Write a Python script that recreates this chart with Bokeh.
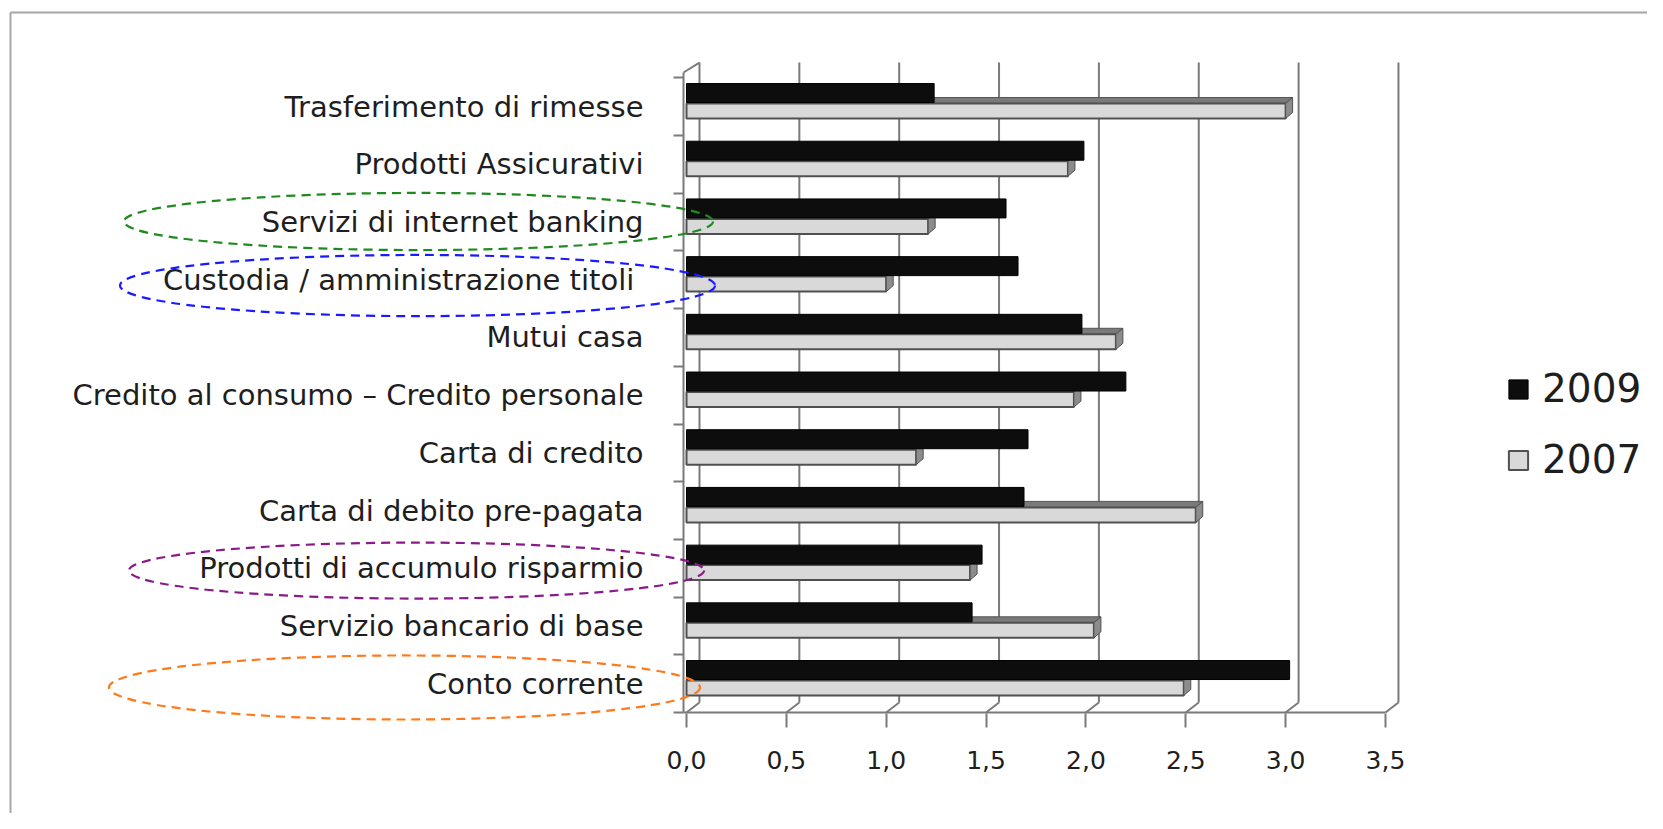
from bokeh.plotting import figure
from bokeh.models import (ColumnDataSource, FixedTicker, Range1d, Legend,
                          LegendItem)
from bokeh.embed import file_html
from bokeh.resources import INLINE

# ---------------- data (display order, top to bottom) ----------------
categories = [
    "Trasferimento di rimesse",
    "Prodotti Assicurativi",
    "Servizi di internet banking",
    "Custodia / amministrazione  titoli",
    "Mutui casa",
    "Credito al consumo \u2013 Credito personale",
    "Carta di credito",
    "Carta di debito pre-pagata",
    "Prodotti di accumulo risparmio",
    "Servizio bancario di base",
    "Conto corrente",
]
values_2009 = [1.24, 1.99, 1.60, 1.66, 1.98, 2.20, 1.71, 1.69, 1.48, 1.43, 3.02]
values_2007 = [3.00, 1.91, 1.21, 1.00, 2.15, 1.94, 1.15, 2.55, 1.42, 2.04, 2.49]
series_names = ["2009", "2007"]
x_ticks = [0.0, 0.5, 1.0, 1.5, 2.0, 2.5, 3.0, 3.5]
x_tick_labels = ["0,0", "0,5", "1,0", "1,5", "2,0", "2,5", "3,0", "3,5"]

highlighted = ["Servizi di internet banking", "Custodia / amministrazione  titoli",
               "Prodotti di accumulo risparmio", "Conto corrente"]
highlight_colors = ["#1f8a1f", "#1a1aff", "#8a1a8a", "#ff7a1a"]

# ---------------- styling constants ----------------
FONT = "DejaVu Sans"
TXT = "#1e1e1e"
GRID = "#7a7a7a"
DX, DY = 0.065, 0.173      # depth offset of the back wall
DXB = 0.035                # depth of bar end caps
W, H = 1647, 813
XR = (-3.435, 4.812)
YR = (-2.250, 11.840)
FLOOR = -0.5
WALL_TOP = 10.765
AX_X = -0.015

n = len(categories)
pos = [n - 1 - k for k in range(n)]

p = figure(width=W, height=H, output_backend="svg", toolbar_location=None,
           title=None, x_range=Range1d(*XR), y_range=Range1d(*YR),
           min_border=0)
p.outline_line_color = None
p.background_fill_color = "white"
p.border_fill_color = "white"
p.xgrid.visible = False
p.ygrid.visible = False

# ---------------- axes (pinned at the chart's corner) ----------------
xa = p.xaxis[0]
xa.fixed_location = FLOOR - 0.017
xa.ticker = FixedTicker(ticks=x_ticks, minor_ticks=[])
xa.major_label_overrides = {t: s for t, s in zip(x_ticks, x_tick_labels)}
xa.axis_line_color = None
xa.major_tick_line_color = GRID
xa.major_tick_line_width = 2
xa.major_tick_out = 14
xa.major_tick_in = 0
xa.major_label_standoff = 23
xa.major_label_text_font = FONT
xa.major_label_text_font_size = "25px"
xa.major_label_text_color = TXT

ya = p.yaxis[0]
ya.fixed_location = AX_X
ya.ticker = FixedTicker(ticks=pos, minor_ticks=[i - 0.5 for i in range(n + 1)])
ya.major_label_overrides = {i: c for i, c in zip(pos, categories)}
ya.axis_line_color = None
ya.major_tick_out = 0
ya.major_tick_in = 0
ya.minor_tick_out = 10
ya.minor_tick_in = 0
ya.minor_tick_line_color = GRID
ya.minor_tick_line_width = 2
ya.major_label_standoff = 30
ya.major_label_text_font = FONT
ya.major_label_text_font_size = "29px"
ya.major_label_text_color = TXT

# ---------------- outer chart-area border (top and left) ----------------
BX, BY = -3.385, 11.632
p.segment(x0=[BX, BX], y0=[YR[0], BY], x1=[BX, XR[1]], y1=[BY, BY],
          line_color="#a6a6a6", line_width=2)

# ---------------- 3D walls ----------------
p.segment(x0=[t + DX for t in x_ticks], y0=[FLOOR + DY] * len(x_ticks),
          x1=[t + DX for t in x_ticks], y1=[WALL_TOP] * len(x_ticks),
          line_color=GRID, line_width=2)
p.segment(x0=x_ticks, y0=[FLOOR] * len(x_ticks),
          x1=[t + DX for t in x_ticks], y1=[FLOOR + DY] * len(x_ticks),
          line_color=GRID, line_width=2)
# floor front edge, left wall front edge and its top bevel
p.segment(x0=[AX_X, AX_X, AX_X], y0=[FLOOR, FLOOR, WALL_TOP - DY],
          x1=[x_ticks[-1], AX_X, DX], y1=[FLOOR, WALL_TOP - DY, WALL_TOP],
          line_color=GRID, line_width=2)

# ---------------- bars ----------------
g_bot, g_top, g_face = -0.205, 0.055, 0.159
k_bot, k_top = 0.072, 0.401

top_face = ColumnDataSource(dict(
    xs=[[0, v, v + DXB, DXB] for v in values_2007],
    ys=[[i + g_top, i + g_top, i + g_face, i + g_face] for i in pos]))
p.patches("xs", "ys", source=top_face, fill_color="#7a7a7a",
          line_color="#555555", line_width=1)

src07 = ColumnDataSource(dict(y=pos, right=values_2007,
                              bottom=[i + g_bot for i in pos],
                              top=[i + g_top for i in pos]))
r07 = p.quad(left=0, right="right", bottom="bottom", top="top", source=src07,
             fill_color="#d9d9d9", line_color="#505050", line_width=2)

cap = ColumnDataSource(dict(
    xs=[[v, v + DXB, v + DXB, v] for v in values_2007],
    ys=[[i + g_bot, i + g_bot + (g_face - g_top), i + g_face, i + g_top] for i in pos]))
p.patches("xs", "ys", source=cap, fill_color="#8c8c8c",
          line_color="#505050", line_width=1)

src09 = ColumnDataSource(dict(y=pos, right=values_2009,
                              bottom=[i + k_bot for i in pos],
                              top=[i + k_top for i in pos]))
r09 = p.quad(left=0, right="right", bottom="bottom", top="top", source=src09,
             fill_color="#0d0d0d", line_color="#000000", line_width=1)

# ---------------- legend ----------------
legend = Legend(items=[LegendItem(label=series_names[0], renderers=[r09]),
                       LegendItem(label=series_names[1], renderers=[r07])],
                location=(1506, 331), glyph_width=24, glyph_height=24,
                label_text_font=FONT, label_text_font_size="39px",
                label_text_color=TXT, spacing=26, padding=10,
                label_standoff=12, border_line_color=None,
                background_fill_alpha=0)
p.add_layout(legend)

# ---------------- dashed ellipses around highlighted labels ----------------
ell_cx = [-1.342, -1.347, -1.352, -1.412]
ell_w = [2.95, 2.98, 2.88, 2.96]
ell_h = [0.99, 1.06, 0.97, 1.11]
ell_dy = [0.01, -0.10, -0.04, -0.066]
ell = ColumnDataSource(dict(
    x=ell_cx,
    y=[pos[categories.index(c)] + d for c, d in zip(highlighted, ell_dy)],
    w=ell_w, h=ell_h, color=highlight_colors))
p.ellipse(x="x", y="y", width="w", height="h", source=ell, fill_alpha=0,
          line_color="color", line_width=2.2, line_dash="9 6")

open("out.html", "w").write(file_html(p, INLINE))
